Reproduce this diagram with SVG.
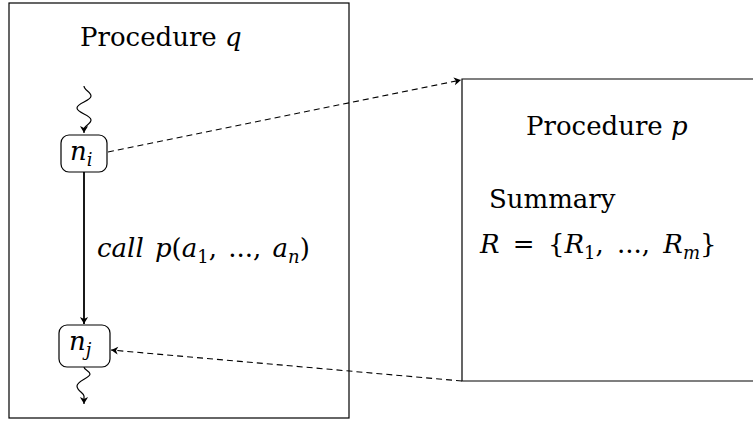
<svg xmlns="http://www.w3.org/2000/svg" width="753" height="421" viewBox="0 0 753 421">
<style>
.t{font-family:'DejaVu Serif','Liberation Serif',serif;font-size:26px;fill:#000}
.i{font-style:italic}
.sub{font-size:18px}
.box{fill:none;stroke:#000;stroke-width:1.2}
.node{fill:#fff;stroke:#000;stroke-width:1.2}
.dash{fill:none;stroke:#000;stroke-width:1.1;stroke-dasharray:6 4}
.snake{fill:none;stroke:#000;stroke-width:1.2}
.thick{fill:none;stroke:#000;stroke-width:1.8}
</style>
<defs>
<marker id="tip" viewBox="-8 -5 9 10" refX="0" refY="0" markerWidth="9" markerHeight="10" markerUnits="userSpaceOnUse" orient="auto">
<path d="M0,0 C-2,-1 -5,-3 -7,-4 L-5,0 L-7,4 C-5,3 -2,1 0,0 Z" fill="#000"/>
</marker>
</defs>
<rect width="753" height="421" fill="#fff"/>
<g id="procedure-q">
<rect class="box" x="9" y="3" width="340" height="415"/>
<text class="t" x="80" y="46">Procedure <tspan class="i">q</tspan></text>
</g>
<g id="procedure-p">
<path class="box" d="M753,79 H462 V381 H753"/>
<text class="t" x="526" y="135">Procedure <tspan class="i">p</tspan></text>
<text class="t" x="489" y="208">Summary</text>
<text class="t" x="480" y="253" word-spacing="5"><tspan class="i">R</tspan> = {<tspan class="i">R</tspan><tspan class="sub" dy="6">1</tspan><tspan dy="-6">, ..., </tspan><tspan class="i">R</tspan><tspan class="sub i" dy="6">m</tspan><tspan dy="-6">}</tspan></text>
</g>
<g id="connectors">
<path class="snake" d="M84,86 C84,90 91,92 91,96 C91,101 77,103 77,108 C77,113 91,115 91,120 C91,124 84,126 84,129 L84,133" marker-end="url(#tip)"/>
<path class="thick" d="M84,172 L84,324" marker-end="url(#tip)"/>
<path class="snake" d="M84,367 C84,370 90,371 90,374 C90,378 77,381 77,386 C77,391 84,393 84,396 L84,404" marker-end="url(#tip)"/>
<path class="dash" d="M108,152 L461,80" marker-end="url(#tip)"/>
<path class="dash" d="M462,381 L111,350" marker-end="url(#tip)"/>
<text class="t" x="97" y="257" word-spacing="3"><tspan class="i">call p</tspan>(<tspan class="i">a</tspan><tspan class="sub" dy="6">1</tspan><tspan dy="-6">, ..., </tspan><tspan class="i">a</tspan><tspan class="sub i" dy="6">n</tspan><tspan dy="-6">)</tspan></text>
</g>
<g id="node-ni">
<rect class="node" x="61" y="135" width="46" height="37" rx="8"/>
<text class="t" x="70" y="160"><tspan class="i">n</tspan><tspan class="sub i" dy="6">i</tspan></text>
</g>
<g id="node-nj">
<rect class="node" x="59" y="325" width="51" height="42" rx="8"/>
<text class="t" x="69" y="350"><tspan class="i">n</tspan><tspan class="sub i" dy="6">j</tspan></text>
</g>
</svg>
